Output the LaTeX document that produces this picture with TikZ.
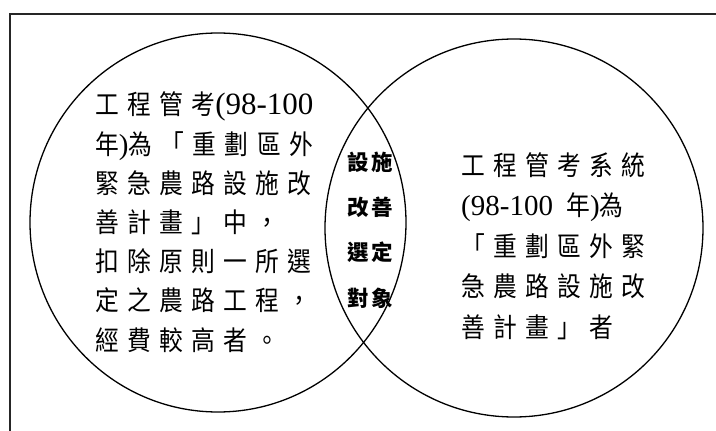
\documentclass[tikz,border=0pt]{standalone}
\usepackage{fontspec}
\setmainfont{Liberation Serif}
\newfontfamily\cjk{Noto Sans CJK TC}[LetterSpace=31, FakeStretch=0.88]
\newfontfamily\cjkb{Noto Sans CJK TC}[LetterSpace=12]
\newfontfamily\lat{Liberation Serif}
\newcommand\latin[2][29]{{\fontsize{#1}{39}\selectfont\lat #2}}
\tikzset{
  frame/.style={line width=2pt, draw=black!85},
  setline/.style={line width=1.3pt, draw=black},
  blocktext/.style={inner sep=0pt, align=left, anchor=base west},
  lenstext/.style={inner sep=0pt, align=center, anchor=base}
}
\begin{document}
\begin{tikzpicture}[x=1pt, y=-1pt]
\useasboundingbox (0,0) rectangle (716,431);
\clip (0,0) rectangle (716,431);
\fill[white] (0,0) rectangle (716,431);
\draw[frame] (10,14) rectangle (760,470);
\draw[setline] (218,222.5) ellipse [x radius=188, y radius=189.5];
\draw[setline] (514,228) ellipse [x radius=189, y radius=189];
\node[blocktext, font=\fontsize{27}{39.2}\selectfont\cjk] (left) at (95,350) {%
工程管考\latin[31]{(98-100}\\
年\latin{)}為「重劃區外\\
緊急農路設施改\\
善計畫」中，\\
扣除原則一所選\\
定之農路工程，\\
經費較高者。};
\node[blocktext, font=\fontsize{27}{40.5}\selectfont\cjk] (right) at (461,337) {%
工程管考系統\\
\latin{(98-100\hspace{6pt} }年\latin{)}為\\
「重劃區外緊\\
急農路設施改\\
善計畫」者};
\node[lenstext, font=\fontsize{21.5}{45.3}\selectfont\cjkb\bfseries] (lens) at (370,306) {%
設施\\
改善\\
選定\\
對象};
\end{tikzpicture}
\end{document}
